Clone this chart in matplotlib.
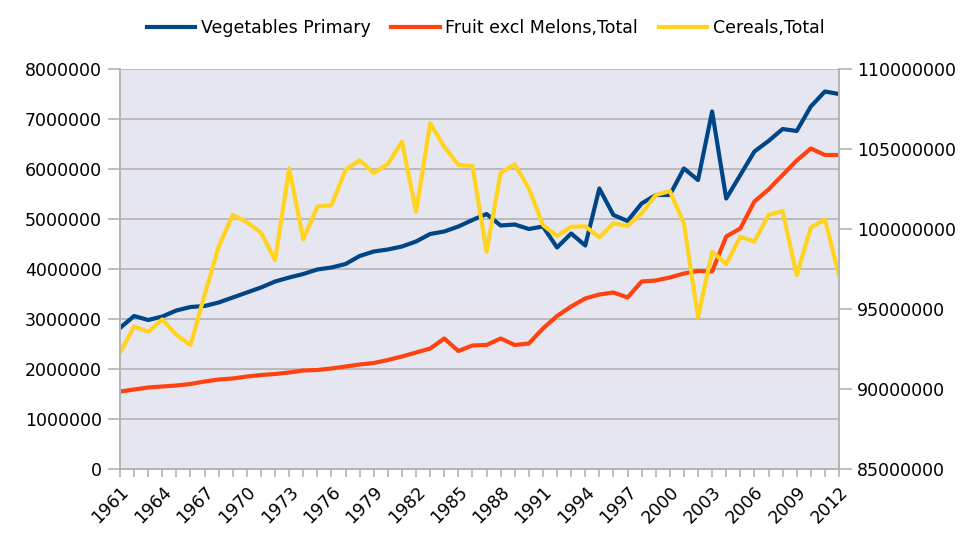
import numpy as np
import matplotlib
matplotlib.use("Agg")
import matplotlib.pyplot as plt

plt.rcParams['font.family'] = ['DejaVu Sans']

years = list(range(1961, 2013))

vegetables = [2.82, 3.06, 2.98, 3.05, 3.17, 3.24, 3.26, 3.33, 3.43, 3.53,
              3.63, 3.75, 3.83, 3.90, 3.99, 4.03, 4.10, 4.26, 4.35, 4.39,
              4.45, 4.55, 4.70, 4.75, 4.85, 4.98, 5.10, 4.87, 4.89, 4.80,
              4.85, 4.43, 4.71, 4.47, 5.61, 5.08, 4.96, 5.31, 5.48, 5.48,
              6.01, 5.78, 7.15, 5.41, 5.88, 6.35, 6.56, 6.80, 6.76, 7.25,
              7.55, 7.50]
fruit = [1.55, 1.59, 1.63, 1.65, 1.67, 1.70, 1.75, 1.79, 1.81, 1.85,
         1.88, 1.90, 1.93, 1.97, 1.98, 2.01, 2.05, 2.09, 2.12, 2.18,
         2.25, 2.33, 2.41, 2.61, 2.36, 2.47, 2.48, 2.61, 2.48, 2.51,
         2.81, 3.06, 3.25, 3.41, 3.49, 3.53, 3.43, 3.75, 3.77, 3.83,
         3.91, 3.96, 3.95, 4.65, 4.81, 5.35, 5.59, 5.88, 6.17, 6.41,
         6.28, 6.28]
cereals = [92.27, 93.90, 93.58, 94.35, 93.38, 92.75, 95.88, 98.90, 100.88, 100.42,
           99.77, 98.06, 103.79, 99.35, 101.40, 101.50, 103.70, 104.30, 103.50, 104.06,
           105.46, 101.08, 106.60, 105.15, 104.00, 103.94, 98.58, 103.52, 104.04, 102.54,
           100.25, 99.56, 100.14, 100.17, 99.48, 100.35, 100.20, 100.98, 102.12, 102.37,
           100.35, 94.48, 98.58, 97.81, 99.52, 99.21, 100.88, 101.12, 97.12, 100.08,
           100.60, 97.12]

veg = np.array(vegetables) * 1e6
fru = np.array(fruit) * 1e6
cer = np.array(cereals) * 1e6

c_veg = '#004586'
c_fru = '#ff420e'
c_cer = '#ffd320'
grid_c = '#b3b3b3'

fig = plt.figure(figsize=(9.71, 5.39), dpi=100)
ax = fig.add_axes([120/971, 1-469/539, (839-120)/971, 400/539])
ax2 = ax.twinx()

ax.set_facecolor('#e6e6f0')
l1, = ax.plot(years, veg, color=c_veg, lw=3, label='Vegetables Primary')
l2, = ax.plot(years, fru, color=c_fru, lw=3, label='Fruit excl Melons,Total')
l3, = ax2.plot(years, cer, color=c_cer, lw=3, label='Cereals,Total')
ax2.patch.set_visible(False)

ax.set_ylim(0, 8e6)
ax.set_yticks(np.arange(0, 8.1e6, 1e6))
ax.set_yticklabels([str(int(v)) for v in np.arange(0, 8.1e6, 1e6)])
ax2.set_ylim(85e6, 110e6)
ax2.set_yticks(np.arange(85e6, 110.1e6, 5e6))
ax2.set_yticklabels([str(int(v)) for v in np.arange(85e6, 110.1e6, 5e6)])
ax.set_xlim(1961, 2012)
ax.set_xticks(years, minor=True)
ax.set_xticks(years[::3])
ax.set_xticklabels([str(y) for y in years[::3]], rotation=45, ha='right', rotation_mode='anchor')

ax.yaxis.grid(True, color=grid_c, lw=1.2)
ax.set_axisbelow(True)
for a in (ax, ax2):
    for s in a.spines.values():
        s.set_color(grid_c)
        s.set_linewidth(1.2)
    a.spines['top'].set_visible(False)
    a.tick_params(colors=grid_c, labelcolor='black', labelsize=12.5, width=1.2)
ax.tick_params(axis='y', length=9, pad=4)
ax2.tick_params(axis='y', length=9, pad=4)
ax.tick_params(axis='x', which='both', length=6, pad=4, width=1.2, colors=grid_c, labelcolor='black')

fig.legend(handles=[l1, l2, l3], loc='center', bbox_to_anchor=(0.5, 1-28/539), ncol=3,
           frameon=False, fontsize=12.5, handlelength=2.8, handletextpad=0.3, columnspacing=1.2)

fig.savefig('out.png', dpi=100)
